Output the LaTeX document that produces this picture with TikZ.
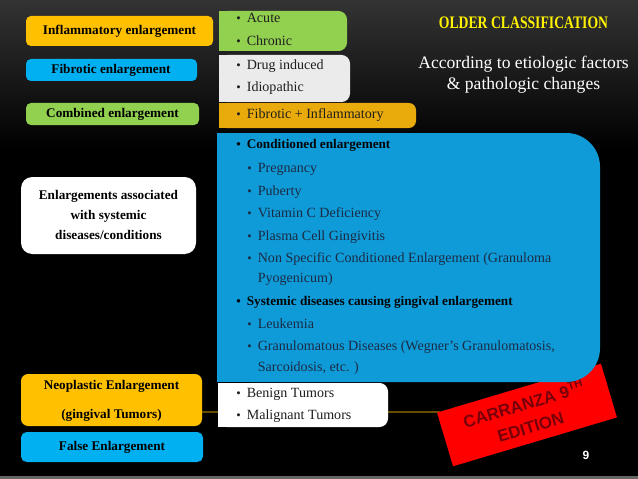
\documentclass[tikz,border=0pt]{standalone}
\usepackage{fontspec}
\setmainfont{Liberation Serif}
\newfontfamily\titlefont[FakeStretch=0.78]{Liberation Serif}
\newfontfamily\stampfont{Liberation Sans}
\newfontfamily\pagefont{Liberation Sans}
\usepackage{tikz}
\usetikzlibrary{positioning}
\usepackage{xcolor}
\definecolor{tagorange}{HTML}{FFC000}
\definecolor{boxorange}{HTML}{E9AB0C}
\definecolor{taggreen}{HTML}{92D050}
\definecolor{tagblue}{HTML}{00B0F0}
\definecolor{bigblue}{HTML}{0F9BD7}
\definecolor{boxgray}{HTML}{EBEBEB}
\definecolor{navytext}{HTML}{1B2B45}
\definecolor{stampred}{RGB}{120,0,10}
\newcommand{\bul}{\makebox[7.5pt][l]{\small\textbullet}}

\begin{document}
\begin{tikzpicture}[x=0.025cm, y=-0.025cm,
  lbl/.style={font=\bfseries\fontsize{9.4}{11}\selectfont, align=center, inner sep=0pt, text=black},
  itm/.style={anchor=west, inner sep=0pt, font=\fontsize{10}{12}\selectfont, text height=6.6pt, text depth=1.2pt, text=black!88},
  sub/.style={itm, text=navytext}]
\useasboundingbox (0,0) rectangle (638,479);
% Background
\fill[black] (0,0) rectangle (638,479);
\shade[top color=black!80, bottom color=black] (0,0) rectangle (638,150);
\fill[black!60] (0,476) rectangle (638,479);
\draw[tagorange!40!black, line width=1pt] (200,412) -- (440,412);
% Left labels
\fill[tagorange, rounded corners=3.5pt] (26,16) rectangle (213,46);
\node[lbl] (inflam) at (119.5,31) {Inflammatory enlargement};
\fill[tagblue, rounded corners=3.5pt] (26,59) rectangle (197,81);
\node[lbl] (fibro) at (111,70) {Fibrotic enlargement};
\fill[taggreen, rounded corners=3.5pt] (26,103) rectangle (199,125);
\node[lbl] (combi) at (112.5,114) {Combined enlargement};
\fill[white, rounded corners=8pt] (21,177) rectangle (196,254);
\node[lbl, font=\bfseries\fontsize{9.4}{13.9}\selectfont] (systemic) at (108.5,215) {Enlargements associated\\with systemic\\diseases/conditions};
\fill[tagorange, rounded corners=5pt] (21,374) rectangle (202,426);
\node[lbl, font=\bfseries\fontsize{9.4}{20.6}\selectfont] (neo) at (111.5,400.5) {Neoplastic Enlargement\\(gingival Tumors)};
\fill[tagblue, rounded corners=4pt] (21,432) rectangle (203,462);
\node[lbl] (false) at (112,447) {False Enlargement};
% Right boxes
\fill[taggreen, rounded corners=6pt] (219,11) rectangle (347,51);
\fill[taggreen] (219,11) rectangle (280,51);
\node[itm] (acute) at (236,19) {\bul Acute};
\node[itm] (chronic) at (236,42) {\bul Chronic};
\fill[boxgray, rounded corners=6pt] (219,55) rectangle (350,102);
\fill[boxgray] (219,55) rectangle (280,102);
\node[itm] (drug) at (236,66) {\bul Drug induced};
\node[itm] (idio) at (236,88) {\bul Idiopathic};
\fill[boxorange, rounded corners=5pt] (219,103) rectangle (416,128);
\fill[boxorange] (219,103) rectangle (280,128);
\node[itm] (fibinf) at (236,115) {\bul Fibrotic + Inflammatory};
% Stamp
\node[fill=red, rotate=16.6, minimum width=4.275cm, minimum height=1.4cm] (stamp) at (527,415) {};
\node[rotate=16.6, align=center, text=stampred, font=\stampfont\bfseries\fontsize{12}{17}\selectfont] (stamptext) at (stamp.center) {CARRANZA 9\textsuperscript{TH}\\EDITION};
% Systemic list
\fill[bigblue, rounded corners=24pt] (217,133) rectangle (600,382);
\fill[bigblue] (217,133) rectangle (450,382);
\node[itm, text=black!90!navytext, font=\bfseries\fontsize{9.4}{11}\selectfont] (cond) at (236,145) {\bul Conditioned enlargement};
\node[sub] (preg) at (247,169) {\bul Pregnancy};
\node[sub] (pub) at (247,192) {\bul Puberty};
\node[sub] (vitc) at (247,214) {\bul Vitamin C Deficiency};
\node[sub] (plasma) at (247,237) {\bul Plasma Cell Gingivitis};
\node[sub] (nonspec) at (247,259) {\bul Non Specific Conditioned Enlargement (Granuloma};
\node[sub] (pyo) at (257.5,279) {Pyogenicum)};
\node[itm, text=black!90!navytext, font=\bfseries\fontsize{9.4}{11}\selectfont] (sysdis) at (236,302) {\bul Systemic diseases causing gingival enlargement};
\node[sub] (leuk) at (247,325) {\bul Leukemia};
\node[sub] (granul) at (247,347) {\bul Granulomatous Diseases (Wegner’s Granulomatosis,};
\node[sub] (sarc) at (257.5,368) {Sarcoidosis, etc. )};
% Tumors
\fill[white, rounded corners=6pt] (218,383) rectangle (388,427);
\fill[white] (218,383) rectangle (280,427);
\node[itm] (benign) at (236,394) {\bul Benign Tumors};
\node[itm] (malig) at (236,416) {\bul Malignant Tumors};
% Title
\node[text=yellow, font=\titlefont\bfseries\fontsize{12.5}{14}\selectfont] (title) at (523.5,23) {OLDER CLASSIFICATION};
\node[text=white, align=center, font=\fontsize{12.5}{15}\selectfont] (etio) at (523.5,75) {According to etiologic factors\\\& pathologic changes};
\node[text=white, font=\pagefont\bfseries\fontsize{8.5}{10}\selectfont] (pagenum) at (586,455) {9};
\end{tikzpicture}
\end{document}
